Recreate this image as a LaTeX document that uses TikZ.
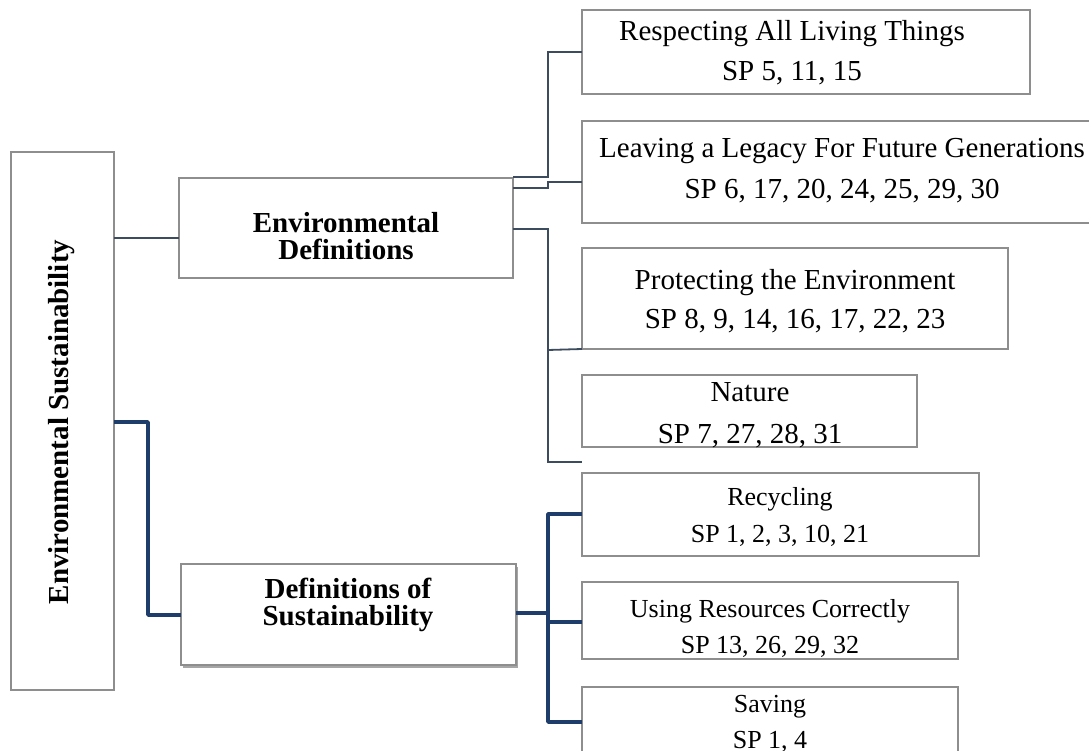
\documentclass[tikz,border=0pt]{standalone}
\usepackage{fontspec}
\setmainfont{Liberation Serif}
\usetikzlibrary{shadows}
\definecolor{thinc}{HTML}{3D4B5F}
\definecolor{thickc}{HTML}{1F3D6B}
\definecolor{boxc}{HTML}{8E8E8E}
\begin{document}
\begin{tikzpicture}[x=1pt,y=-1pt,
 box/.style={draw=boxc, line width=1.2pt, fill=white, anchor=north west, inner sep=0pt, outer sep=0pt},
 big/.style={font=\fontsize{29}{35}\selectfont, anchor=base, inner sep=0pt},
 small/.style={font=\fontsize{26}{31}\selectfont, anchor=base, inner sep=0pt},
 boldtxt/.style={font=\fontsize{29}{35}\selectfont\bfseries, anchor=base, inner sep=0pt},
 thinconn/.style={draw=thinc, line width=1.8pt},
 thickconn/.style={draw=thickc, line width=3.6pt, line join=round},
]
\path[use as bounding box, fill=white] (0,0) rectangle (1089,751);

% boxes
\node[box, minimum width=103pt, minimum height=538pt] (L) at (11,152) {};
\node[box, minimum width=334pt, minimum height=100pt] (ED) at (179,178) {};
\node[box, minimum width=335pt, minimum height=101pt,
      drop shadow={shadow xshift=2pt, shadow yshift=-3pt, opacity=0.35, fill=black}] (DS) at (181,564) {};
\node[box, minimum width=448pt, minimum height=84pt] (R1) at (582,10) {};
\node[box, minimum width=520pt, minimum height=102pt] (R2) at (582,121) {};
\node[box, minimum width=426pt, minimum height=101pt] (R3) at (582,248) {};
\node[box, minimum width=335pt, minimum height=72pt] (R4) at (582,375) {};
\node[box, minimum width=397pt, minimum height=83pt] (R5) at (582,473) {};
\node[box, minimum width=376pt, minimum height=77pt] (R6) at (582,582) {};
\node[box, minimum width=376pt, minimum height=80pt] (R7) at (582,687) {};

% texts
\node[boldtxt, anchor=center, rotate=90] (Lt) at (62,422) {Environmental Sustainability};
\node[boldtxt] (EDa) at (346,233) {Environmental};
\node[boldtxt] (EDb) at (346,260) {Definitions};
\node[boldtxt] (DSa) at (348,598) {Definitions of};
\node[boldtxt] (DSb) at (348,625) {Sustainability};
\node[big] (R1a) at (792,41) {Respecting All Living Things};
\node[big] (R1b) at (792,81) {SP 5, 11, 15};
\node[big] (R2a) at (842,158) {Leaving a Legacy For Future Generations};
\node[big] (R2b) at (842,199) {SP 6, 17, 20, 24, 25, 29, 30};
\node[big] (R3a) at (795,290) {Protecting the Environment};
\node[big] (R3b) at (795,328) {SP 8, 9, 14, 16, 17, 22, 23};
\node[big] (R4a) at (750,401) {Nature};
\node[big] (R4b) at (750,443) {SP 7, 27, 28, 31};
\node[small] (R5a) at (780,505) {Recycling};
\node[small] (R5b) at (780,542) {SP 1, 2, 3, 10, 21};
\node[small] (R6a) at (770,617) {Using Resources Correctly};
\node[small] (R6b) at (770,653) {SP 13, 26, 29, 32};
\node[small] (R7a) at (770,712) {Saving};
\node[small] (R7b) at (770,748) {SP 1, 4};

% junction coordinates
\coordinate (j1) at (548,52);
\coordinate (j2) at (548,182);
\coordinate (j3) at (548,462);
\coordinate (j3e) at (582,462);
\coordinate (j4) at (548,350);
\coordinate (k1) at (148,615);
\coordinate (k2) at (548,613);
\coordinate (k3) at (548,722);
\coordinate (k4) at (548,622);

% thin connectors
\draw[thinconn] (L.east |- 0,238) -- (ED.west |- 0,238);
\draw[thinconn] (ED.east |- 0,177) -| (j1) -- (R1.west |- j1);
\draw[thinconn] (ED.east |- 0,188) -| (j2) -- (R2.west |- j2);
\draw[thinconn] (ED.east |- 0,229) -| (j3) -- (j3e);
\draw[thinconn] (j4) -- (R3.south west);

% thick connectors
\draw[thickconn] (L.east |- 0,422) -| (k1) -- (DS.west |- k1);
\draw[thickconn] (DS.east |- k2) -- (k2);
\draw[thickconn] (R5.west |- 0,514) -| (k3) -- (R7.west |- k3);
\draw[thickconn] (k4) -- (R6.west |- k4);
\end{tikzpicture}
\end{document}
